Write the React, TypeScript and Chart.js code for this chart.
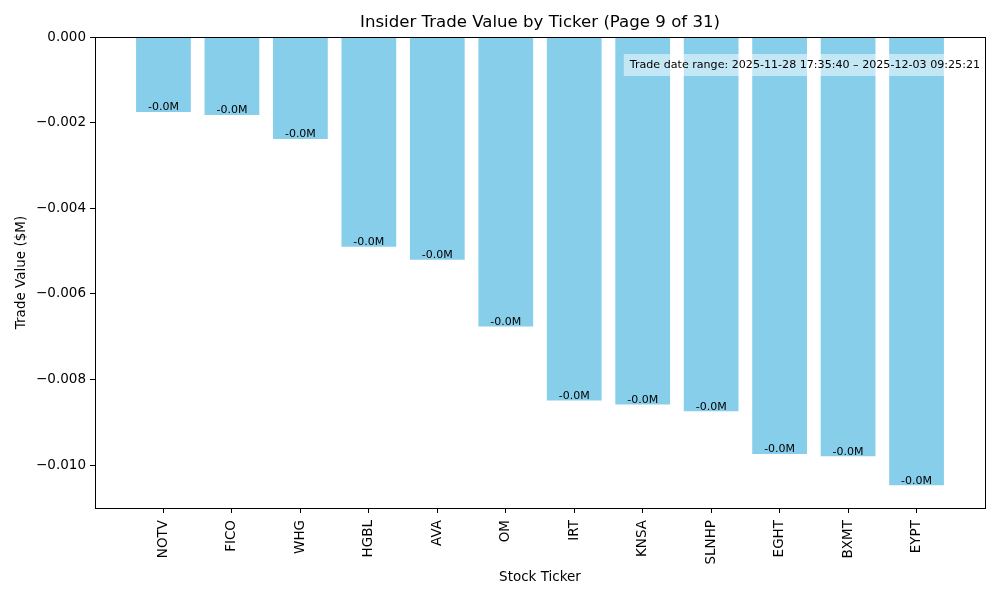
import React, { useEffect, useRef } from "react";
import { Chart, registerables } from "chart.js";

Chart.register(...registerables);

const tickers = ["NOTV", "FICO", "WHG", "HGBL", "AVA", "OM", "IRT", "KNSA", "SLNHP", "EGHT", "BXMT", "EYPT"];
const tradeValues = [-0.00175, -0.00182, -0.00238, -0.0049, -0.0052, -0.00676, -0.00849, -0.00858, -0.00874, -0.00974, -0.00979, -0.01047];
const barLabels = ["-0.0M", "-0.0M", "-0.0M", "-0.0M", "-0.0M", "-0.0M", "-0.0M", "-0.0M", "-0.0M", "-0.0M", "-0.0M", "-0.0M"];
const yTickValues = [0, -0.002, -0.004, -0.006, -0.008, -0.01];
const chartTitle = "Insider Trade Value by Ticker (Page 9 of 31)";
const xTitle = "Stock Ticker";
const yTitle = "Trade Value ($M)";
const rangeNote = "Trade date range: 2025-11-28 17:35:40 \u2013 2025-12-03 09:25:21";

const FONT = "'DejaVu Sans', sans-serif";

export default function App() {
  const ref = useRef<HTMLCanvasElement | null>(null);
  useEffect(() => {
    if (!ref.current) return;
    const overlay = {
      id: "overlay",
      afterDatasetsDraw(chart: any) {
        const ctx = chart.ctx;
        const meta = chart.getDatasetMeta(0);
        ctx.save();
        ctx.fillStyle = "#000";
        ctx.font = `11px ${FONT}`;
        ctx.textAlign = "center";
        ctx.textBaseline = "bottom";
        meta.data.forEach((el: any, i: number) => {
          ctx.fillText(barLabels[i], el.x, el.y + 1);
        });
        // annotation box
        const ca = chart.chartArea;
        ctx.font = `11.1px ${FONT}`;
        const w = ctx.measureText(rangeNote).width;
        const right = ca.right + 1;
        const boxL = right - w - 12;
        ctx.fillStyle = "rgba(255,255,255,0.5)";
        ctx.fillRect(boxL, ca.top + 17, w + 12, 22);
        ctx.fillStyle = "#000";
        ctx.textAlign = "left";
        ctx.textBaseline = "middle";
        ctx.fillText(rangeNote, boxL + 6, ca.top + 28);
        ctx.restore();
      },
      afterDraw(chart: any) {
        const ctx = chart.ctx;
        const ca = chart.chartArea;
        ctx.save();
        ctx.strokeStyle = "#000";
        ctx.lineWidth = 1;
        ctx.strokeRect(Math.round(ca.left) + 0.5, Math.round(ca.top) + 0.5, Math.round(ca.right - ca.left), Math.round(ca.bottom - ca.top));
        ctx.fillStyle = "#000";
        ctx.textAlign = "center";
        ctx.textBaseline = "middle";
        const cx = (ca.left + ca.right) / 2;
        ctx.font = `16.6px ${FONT}`;
        ctx.fillText(chartTitle, cx, 23);
        ctx.font = `13.5px ${FONT}`;
        ctx.fillText(xTitle, cx, 577);
        ctx.translate(21, (ca.top + ca.bottom) / 2);
        ctx.rotate(-Math.PI / 2);
        ctx.fillText(yTitle, 0, 0);
        ctx.restore();
      },
    };
    const chart = new Chart(ref.current, {
      type: "bar",
      data: {
        datasets: [
          {
            data: tradeValues.map((v, i) => ({ x: i, y: v })),
            backgroundColor: "#87CEEB",
            borderWidth: 0,
            barPercentage: 0.8,
            categoryPercentage: 1.0,
          },
        ],
      },
      options: {
        responsive: false,
        animation: false,
        devicePixelRatio: 1,
        layout: { padding: { top: 37, right: 15, left: 0, bottom: 0 } },
        plugins: { legend: { display: false }, tooltip: { enabled: false }, title: { display: false } },
        scales: {
          x: {
            type: "linear",
            min: -1,
            max: 12,
            offset: false,
            afterBuildTicks: (s: any) => {
              s.ticks = tickers.map((_, i) => ({ value: i }));
            },
            afterFit: (s: any) => {
              s.height = 92;
            },
            grid: { offset: false, drawOnChartArea: false, drawTicks: true, tickLength: 5, tickColor: "#000" },
            border: { display: false },
            ticks: {
              autoSkip: false,
              minRotation: 90,
              maxRotation: 90,
              padding: 7,
              color: "#000",
              font: { family: FONT, size: 13.5 },
              callback: (v: any) => tickers[v as number] ?? "",
            },
          },
          y: {
            min: -0.011,
            max: 0,
            afterBuildTicks: (s: any) => {
              s.ticks = yTickValues.map((v) => ({ value: v }));
            },
            afterFit: (s: any) => {
              s.width = 95;
            },
            grid: { drawOnChartArea: false, drawTicks: true, tickLength: 5, tickColor: "#000" },
            border: { display: false },
            ticks: {
              padding: 4,
              color: "#000",
              font: { family: FONT, size: 13.5 },
              callback: (v: any) => {
                const n = Number(v);
                const s = Math.abs(n).toFixed(3);
                return n < -1e-9 ? "\u2212" + s : s;
              },
            },
          },
        },
      },
      plugins: [overlay],
    } as any);
    return () => chart.destroy();
  }, []);
  return (
    <div style={{ position: "fixed", left: 0, top: 0, width: 1000, height: 600, background: "#fff" }}>
      <canvas ref={ref} width={1000} height={600} style={{ width: 1000, height: 600, display: "block" }} />
    </div>
  );
}
